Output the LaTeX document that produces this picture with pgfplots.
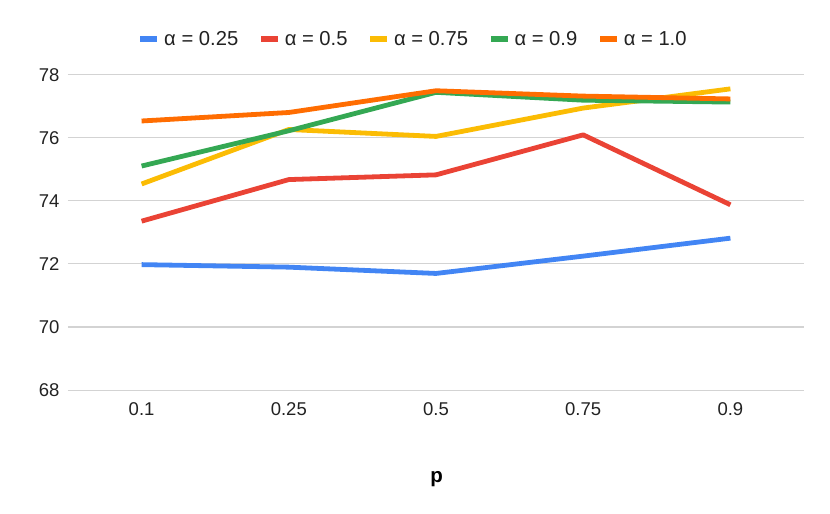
\documentclass[border=0pt]{standalone}
\usepackage{fontspec}
\setmainfont{Liberation Sans}
\usepackage{pgfplots}
\pgfplotsset{compat=1.18}
\definecolor{cblue}{HTML}{4285F4}
\definecolor{cred}{HTML}{EA4335}
\definecolor{cyellow}{HTML}{FBBC04}
\definecolor{cgreen}{HTML}{34A853}
\definecolor{corange}{HTML}{FF6D01}
\definecolor{gridgray}{HTML}{D3D3D3}
\definecolor{labelcol}{HTML}{222222}
\begin{document}
\begin{tikzpicture}
\useasboundingbox (-68pt,-124pt) rectangle (762pt,390pt);
\begin{axis}[
  scale only axis, width=736pt, height=315pt,
  xmin=-0.5, xmax=4.5, ymin=68, ymax=78,
  xtick={0,1,2,3,4}, xticklabels={0.1,0.25,0.5,0.75,0.9},
  ytick={68,70,72,74,76,78},
  ymajorgrids, grid style={draw=gridgray, line width=1pt},
  axis line style={draw=none}, major tick length=0pt,
  tick label style={font=\fontsize{18.5}{22}\selectfont, text=labelcol},
  /pgf/number format/assume math mode=true,
  xticklabel style={yshift=-9pt},
  yticklabel style={xshift=-5pt},
  xlabel={\textbf{p}},
  xlabel style={at={(axis description cs:0.501,0)}, anchor=base, yshift=-92pt, font=\fontsize{20.5}{24}\selectfont},
  legend columns=5,
  legend style={draw=none, at={(0.469,1.114)}, anchor=center, font=\fontsize{20.2}{24}\selectfont, text=labelcol,
    /tikz/every odd column/.append style={column sep=2pt},
    /tikz/every even column/.append style={column sep=18pt}},
  legend image code/.code={\draw[line width=5.5pt] (0pt,0pt) -- (17pt,0pt);},
  every axis plot/.append style={line width=4.8pt, line join=round},
]
\addplot[cblue] coordinates {(0,71.98) (1,71.90) (2,71.70) (3,72.25) (4,72.82)};
\addlegendentry{α = 0.25}
\addplot[cred] coordinates {(0,73.36) (1,74.68) (2,74.83) (3,76.10) (4,73.88)};
\addlegendentry{α = 0.5}
\addplot[cyellow] coordinates {(0,74.54) (1,76.27) (2,76.05) (3,76.95) (4,77.56)};
\addlegendentry{α = 0.75}
\addplot[cgreen] coordinates {(0,75.11) (1,76.23) (2,77.45) (3,77.20) (4,77.14)};
\addlegendentry{α = 0.9}
\addplot[corange] coordinates {(0,76.54) (1,76.81) (2,77.50) (3,77.33) (4,77.24)};
\addlegendentry{α = 1.0}
\end{axis}
\end{tikzpicture}
\end{document}
